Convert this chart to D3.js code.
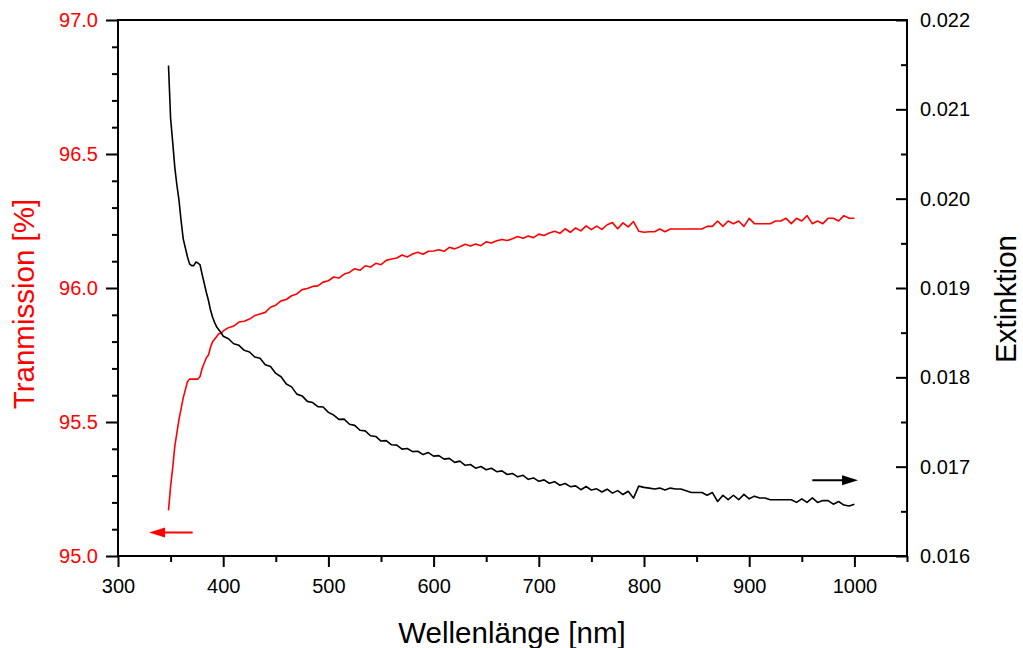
<!DOCTYPE html>
<html>
<head>
<meta charset="utf-8">
<script src="https://cdn.jsdelivr.net/npm/d3@7"></script>
<style>
  body { margin: 0; background: #fff; }
  text { font-family: Arial, "Liberation Sans", sans-serif; }
</style>
</head>
<body>
<div id="app"></div>
<script>
// wavelength grid of the scan [nm]
const wavelength = [
  348, 350, 352, 354, 356, 358, 360, 362, 364, 366, 368, 370, 372, 374, 376, 378, 380, 382, 384, 386,
  388, 390, 392, 394, 396, 398, 400,
  405, 410, 415, 420, 425, 430, 435, 440, 445, 450,
  455, 460, 465, 470, 475, 480, 485, 490, 495, 500,
  505, 510, 515, 520, 525, 530, 535, 540, 545, 550,
  555, 560, 565, 570, 575, 580, 585, 590, 595, 600,
  605, 610, 615, 620, 625, 630, 635, 640, 645, 650,
  655, 660, 665, 670, 675, 680, 685, 690, 695, 700,
  705, 710, 715, 720, 725, 730, 735, 740, 745, 750,
  755, 760, 765, 770, 775, 780, 785, 790, 795, 800,
  805, 810, 815, 820, 825, 830, 835, 840, 845, 850,
  855, 860, 865, 870, 875, 880, 885, 890, 895, 900,
  905, 910, 915, 920, 925, 930, 935, 940, 945, 950,
  955, 960, 965, 970, 975, 980, 985, 990, 995, 1000
];

// Transmission [%] (left axis, red)
const transmission = [
  95.17, 95.26, 95.33, 95.41, 95.46, 95.51, 95.55, 95.59, 95.62, 95.65, 95.66, 95.66, 95.66, 95.66, 95.66, 95.67, 95.70, 95.72, 95.74, 95.75,
  95.78, 95.80, 95.81, 95.82, 95.83, 95.83, 95.84,
  95.852, 95.858, 95.873, 95.876, 95.884, 95.897, 95.903, 95.909, 95.928, 95.936,
  95.952, 95.957, 95.971, 95.978, 95.994, 95.998, 96.006, 96.008, 96.022, 96.027,
  96.041, 96.037, 96.052, 96.058, 96.072, 96.066, 96.083, 96.078, 96.092, 96.087,
  96.103, 96.108, 96.112, 96.123, 96.116, 96.127, 96.133, 96.126, 96.137, 96.138,
  96.143, 96.137, 96.152, 96.146, 96.154, 96.163, 96.157, 96.164, 96.158, 96.172,
  96.168, 96.176, 96.181, 96.177, 96.184, 96.192, 96.186, 96.194, 96.188, 96.201,
  96.196, 96.205, 96.212, 96.204, 96.221, 96.208, 96.224, 96.213, 96.232, 96.218,
  96.231, 96.219, 96.236, 96.244, 96.221, 96.243, 96.228, 96.248, 96.212, 96.208,
  96.21, 96.21, 96.22, 96.21, 96.22, 96.22, 96.22, 96.22, 96.22, 96.22,
  96.22, 96.23, 96.23, 96.25, 96.23, 96.25, 96.24, 96.25, 96.23, 96.26,
  96.24, 96.24, 96.24, 96.24, 96.25, 96.25, 96.26, 96.24, 96.26, 96.25,
  96.27, 96.24, 96.25, 96.24, 96.26, 96.26, 96.25, 96.27, 96.26, 96.26
];

// Extinktion (right axis, black)
const extinction = [
  0.02149, 0.02090, 0.02063, 0.02035, 0.02015, 0.01998, 0.01975, 0.01955, 0.01945, 0.01935, 0.01927, 0.01925, 0.01925, 0.01929, 0.01928, 0.01926, 0.01915, 0.01905, 0.01895, 0.01886,
  0.01875, 0.01867, 0.01861, 0.01856, 0.01853, 0.01850, 0.01846,
  0.018432, 0.018376, 0.018358, 0.018302, 0.018284, 0.018228, 0.018214, 0.018142, 0.018121, 0.018044,
  0.018006, 0.017925, 0.017893, 0.017812, 0.017792, 0.017731, 0.017718, 0.017672, 0.017668, 0.017608,
  0.017578, 0.017529, 0.017532, 0.017475, 0.017462, 0.017408, 0.017401, 0.017346, 0.017338, 0.017287,
  0.017292, 0.017245, 0.017241, 0.017196, 0.017203, 0.017168, 0.017172, 0.017135, 0.017158, 0.017118,
  0.017124, 0.017084, 0.017093, 0.017048, 0.017062, 0.017015, 0.017024, 0.016983, 0.017002, 0.016966,
  0.016982, 0.016944, 0.016953, 0.016912, 0.016924, 0.016886, 0.016903, 0.016858, 0.016874, 0.016836,
  0.016852, 0.016814, 0.016832, 0.016792, 0.016812, 0.016776, 0.016785, 0.016742, 0.016778, 0.016738,
  0.016752, 0.016716, 0.016748, 0.016704, 0.016732, 0.016688, 0.016725, 0.016648, 0.016782, 0.016768,
  0.01676, 0.01675, 0.01676, 0.01674, 0.01676, 0.01675, 0.01675, 0.01673, 0.01671, 0.01671,
  0.01671, 0.01668, 0.01671, 0.01661, 0.01668, 0.01663, 0.01668, 0.01663, 0.01669, 0.01664,
  0.01667, 0.01665, 0.01665, 0.01663, 0.01663, 0.01663, 0.01663, 0.01663, 0.01660, 0.01664,
  0.01660, 0.01665, 0.01660, 0.01662, 0.01662, 0.01658, 0.01661, 0.01657, 0.01656, 0.01658
];

const xMajor = [300, 400, 500, 600, 700, 800, 900, 1000];
const xMinor = [350, 450, 550, 650, 750, 850, 950, 1050];
const leftMajor = [95.0, 95.5, 96.0, 96.5, 97.0];
const leftMinor = [95.1, 95.2, 95.3, 95.4, 95.6, 95.7, 95.8, 95.9, 96.1, 96.2, 96.3, 96.4, 96.6, 96.7, 96.8, 96.9];
const rightMajor = [0.016, 0.017, 0.018, 0.019, 0.020, 0.021, 0.022];
const rightMinor = [0.0165, 0.0175, 0.0185, 0.0195, 0.0205, 0.0215];

const width = 1023, height = 648;
const margin = {top: 20, right: 116, bottom: 92, left: 118};
const red = "#ff0000";

const x = d3.scaleLinear().domain([300, 1050]).range([margin.left, width - margin.right]);
const yL = d3.scaleLinear().domain([95, 97]).range([height - margin.bottom, margin.top]);
const yR = d3.scaleLinear().domain([0.016, 0.022]).range([height - margin.bottom, margin.top]);

const svg = d3.select("#app").append("svg")
    .attr("width", width)
    .attr("height", height)
    .attr("viewBox", [0, 0, width, height]);

const font = 'Arial, "Liberation Sans", sans-serif';

function styleAxis(g) {
  g.attr("font-family", font).attr("font-size", 20);
  g.select(".domain").remove();
  g.selectAll(".tick line").attr("stroke", "#000").attr("stroke-width", 2);
  g.selectAll(".tick text").attr("fill", "#000");
}

// bottom axis
svg.append("g")
    .attr("transform", `translate(0,${yL.range()[0]})`)
    .call(d3.axisBottom(x).tickValues(xMinor).tickSize(6).tickFormat(""))
    .call(styleAxis);
svg.append("g")
    .attr("transform", `translate(0,${yL.range()[0]})`)
    .call(d3.axisBottom(x).tickValues(xMajor).tickSize(11).tickPadding(12).tickFormat(d3.format("d")))
    .call(styleAxis);

// left axis
svg.append("g")
    .attr("transform", `translate(${margin.left},0)`)
    .call(d3.axisLeft(yL).tickValues(leftMinor).tickSize(6).tickFormat(""))
    .call(styleAxis);
svg.append("g")
    .attr("transform", `translate(${margin.left},0)`)
    .call(d3.axisLeft(yL).tickValues(leftMajor).tickSize(12).tickPadding(8).tickFormat(d3.format(".1f")))
    .call(styleAxis)
    .call(g => g.selectAll(".tick text").attr("fill", red));

// right axis (ticks point inward)
svg.append("g")
    .attr("transform", `translate(${width - margin.right},0)`)
    .call(d3.axisRight(yR).tickValues(rightMinor).tickSize(-6).tickFormat(""))
    .call(styleAxis);
svg.append("g")
    .attr("transform", `translate(${width - margin.right},0)`)
    .call(d3.axisRight(yR).tickValues(rightMajor).tickSize(-11).tickPadding(13).tickFormat(d3.format(".3f")))
    .call(styleAxis);

// frame
svg.append("rect")
    .attr("x", margin.left)
    .attr("y", margin.top)
    .attr("width", width - margin.right - margin.left)
    .attr("height", height - margin.bottom - margin.top)
    .attr("fill", "none")
    .attr("stroke", "#000")
    .attr("stroke-width", 2);

// curves
const idx = d3.range(wavelength.length);
svg.append("path")
    .attr("fill", "none")
    .attr("stroke", red)
    .attr("stroke-width", 1.6)
    .attr("stroke-linejoin", "round")
    .attr("d", d3.line().x(i => x(wavelength[i])).y(i => yL(transmission[i]))(idx));

svg.append("path")
    .attr("fill", "none")
    .attr("stroke", "#000")
    .attr("stroke-width", 1.6)
    .attr("stroke-linejoin", "round")
    .attr("d", d3.line().x(i => x(wavelength[i])).y(i => yR(extinction[i]))(idx));

// arrows marking which axis belongs to which curve
function arrow(x0, x1, y, color) {
  const dir = Math.sign(x1 - x0), len = 16, half = 5;
  svg.append("line")
      .attr("x1", x0).attr("x2", x1 - dir * len / 2)
      .attr("y1", y).attr("y2", y)
      .attr("stroke", color).attr("stroke-width", 2);
  svg.append("path")
      .attr("fill", color)
      .attr("d", `M${x1},${y}L${x1 - dir * len},${y - half}L${x1 - dir * len},${y + half}Z`);
}
arrow(x(371), x(329.5), yL(95.088), red);
arrow(x(960), x(1003.5), yR(0.016847), "#000");

// axis titles
svg.append("text")
    .attr("x", 512)
    .attr("y", 643)
    .attr("text-anchor", "middle")
    .attr("font-size", 29.5)
    .attr("fill", "#000")
    .text("Wellenlänge [nm]");

svg.append("text")
    .attr("transform", "translate(34,304) rotate(-90)")
    .attr("text-anchor", "middle")
    .attr("font-size", 29.5)
    .attr("fill", red)
    .text("Tranmission [%]");

svg.append("text")
    .attr("transform", "translate(1016,299) rotate(-90)")
    .attr("text-anchor", "middle")
    .attr("font-size", 29.5)
    .attr("fill", "#000")
    .text("Extinktion");
</script>
</body>
</html>
